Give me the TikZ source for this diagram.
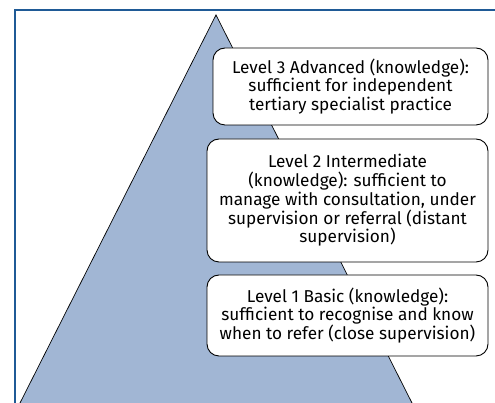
\documentclass[tikz,border=0pt]{standalone}
\usepackage{fontspec}
\setmainfont{Fira Sans}
\usetikzlibrary{calc}
\definecolor{framecol}{HTML}{1F5A96}
\definecolor{pyrcol}{HTML}{A1B6D4}
\tikzset{
  level/.style={draw,fill=white,rounded corners=12pt,align=center,inner sep=0pt,
    font=\fontsize{17.2}{18.8}\selectfont,line width=0.9pt},
  frame/.style={draw=framecol,line width=1.8pt}
}

\begin{document}
\begin{tikzpicture}[x=1pt,y=1pt]
\useasboundingbox (0,0) rectangle (495,403);
\coordinate (apex) at (216,388);
\coordinate (baseL) at (20,0);
\coordinate (baseR) at (412,0);
\fill[pyrcol] (apex) -- (baseR) -- (baseL) -- cycle;
\draw[line width=0.7pt] (baseL) -- (apex) -- (baseR);
\draw[frame] (495,393) -- (15,393) -- (15,0);
\node[level,minimum width=275pt,minimum height=77pt] (lvlthree) at (350.5,316.5)
  {Level 3 Advanced (knowledge):\\sufficient for independent\\tertiary specialist practice};
\node[level,minimum width=281pt,minimum height=123pt] (lvltwo) at (347.5,202.5)
  {Level 2 Intermediate\\(knowledge): sufficient to\\manage with consultation, under\\supervision or referral (distant\\supervision)};
\node[level,minimum width=281pt,minimum height=81pt] (lvlone) at (347.5,87.5)
  {Level 1 Basic (knowledge):\\sufficient to recognise and know\\when to refer (close supervision)};
\end{tikzpicture}
\end{document}
